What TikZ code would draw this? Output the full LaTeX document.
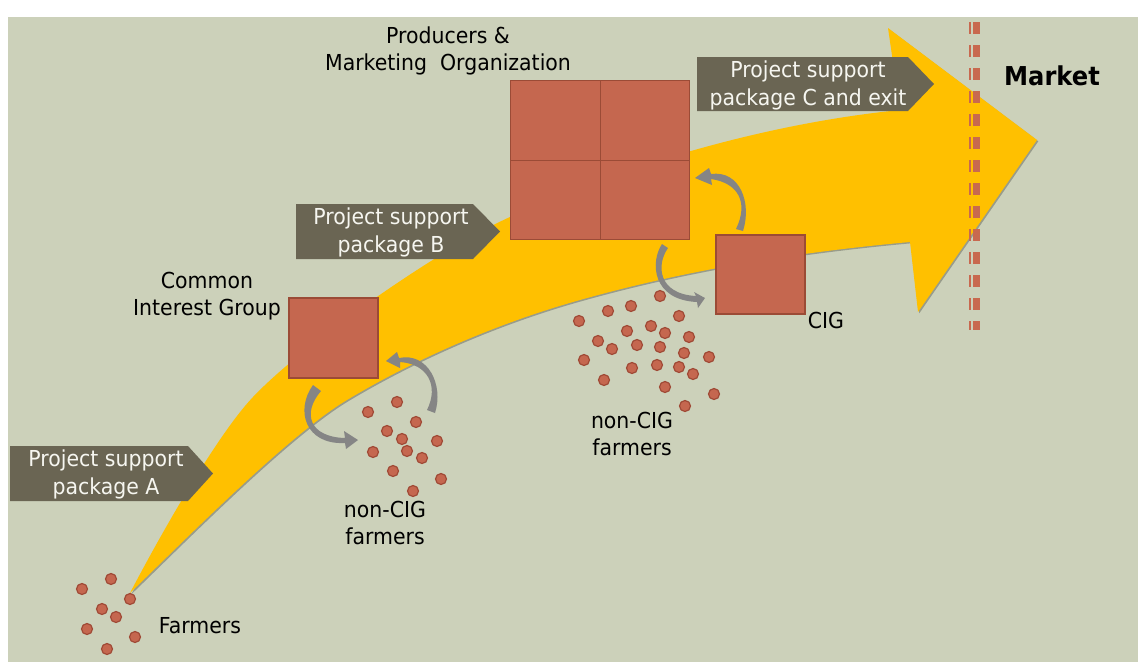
\documentclass[tikz,border=0pt]{standalone}
\usepackage{fontspec}
\setmainfont{DejaVu Sans}[FakeStretch=0.93]
\usetikzlibrary{shadows}
\definecolor{panel}{HTML}{CCD1BA}
\definecolor{flow}{HTML}{FFC000}
\definecolor{brick}{HTML}{C5674F}
\definecolor{brickline}{HTML}{9B4B36}
\definecolor{dotline}{HTML}{A04A36}
\definecolor{tagfill}{HTML}{6A6553}
\definecolor{tagtext}{HTML}{F6F6F0}
\definecolor{turngray}{HTML}{858585}
\definecolor{boundary}{HTML}{C8694F}
\begin{document}
\begin{tikzpicture}[x=1pt,y=-1pt,
  lbl/.style={font=\fontsize{22}{27}\selectfont, text=black, align=center, inner sep=0pt},
  taglbl/.style={font=\fontsize{22}{28}\selectfont, text=tagtext, align=center, inner sep=0pt},
  box/.style={draw=brickline, fill=brick, line width=1.4pt, inner sep=0pt, rectangle},
  dot/.style={circle, draw=dotline, fill=brick, line width=1.2pt, minimum size=11pt, inner sep=0pt},
  tag/.style={fill=tagfill},
  turn/.style={fill=turngray},
  fence/.style={draw=boundary, dash pattern=on 12pt off 11pt}]
\useasboundingbox (0,0) rectangle (1138,662);
\fill[white] (0,0) rectangle (1138,662);
\fill[panel] (8,17) rectangle (1138,662);

% the growth arrow from the farmers to the market
\fill[flow, drop shadow={shadow xshift=1.3pt, shadow yshift=-1.3pt, opacity=0.25, fill=black}]
  (130,593) .. controls (155,545) and (215,437) .. (253,397)
            .. controls (303,344) and (440,248.5) .. (510,217)
            .. controls (640,158.5) and (780,122) .. (900,110)
  -- (888,28) -- (1037,140) -- (918,312) -- (910,242)
            .. controls (800,252) and (690,269) .. (580,300)
            .. controls (500,322.4) and (417,358) .. (347,400)
            .. controls (287,436) and (180,545) .. (130,593)
  -- cycle;

% market boundary
\coordinate (fenceTop) at (970,22);
\coordinate (fenceBot) at (970,330);
\draw[fence, line width=2.7pt] (fenceTop) -- (fenceBot);
\draw[fence, line width=6.7pt] ([xshift=6.7pt]fenceTop) -- ([xshift=6.7pt]fenceBot);

% support package tags
\fill[tag] (10,446) -- (188,446) -- (213,473.5) -- (188,501) -- (10,501) -- cycle;
\fill[tag] (296,204) -- (473,204) -- (500,231.5) -- (473,259) -- (296,259) -- cycle;
\fill[tag] (697,57) -- (908,57) -- (934,84) -- (908,111) -- (697,111) -- cycle;
\node[taglbl] (pkgA) at (106,474) {Project support\\package A};
\node[taglbl] (pkgB) at (391,232) {Project support\\package B};
\node[taglbl] (pkgC) at (808,85) {Project support\\package C and exit};

% groups
\node[box, minimum width=89pt, minimum height=80pt] (cig1) at (333.5,338) {};
\node[box, minimum width=89.5pt, minimum height=79.5pt] (pmo1) at (555.5,120.5) {};
\node[box, minimum width=89.5pt, minimum height=79.5pt] (pmo2) at (645,120.5) {};
\node[box, minimum width=89.5pt, minimum height=79.5pt] (pmo3) at (555.5,200) {};
\node[box, minimum width=89.5pt, minimum height=79.5pt] (pmo4) at (645,200) {};
\node[box, minimum width=89pt, minimum height=79pt] (cig2) at (760.5,274.5) {};

% farmers
\foreach \x/\y in {111/579, 82/589, 130/599, 102/609, 116/617, 87/629, 135/637, 107/649}
  \node[dot] at (\x,\y) {};
\foreach \x/\y in {397/402, 368/412, 416/422, 387/431, 402/439, 437/441, 373/452, 407/451,
                   422/458, 393/471, 441/479, 413/491}
  \node[dot] at (\x,\y) {};
\foreach \x/\y in {660/296, 608/311, 631/306, 679/316, 579/321, 651/326, 627/331, 665/333,
                   689/337, 598/341, 612/349, 637/345, 660/347, 684/353, 709/357, 584/360,
                   632/368, 657/365, 679/367, 693/374, 604/380, 665/387, 714/394, 685/406}
  \node[dot] at (\x,\y) {};

% exchange arrows between groups
\fill[turn] (313,385) .. controls (295,410) and (305,445) .. (345,443) -- (346,449)
  -- (358,440) -- (344,431) -- (345,438) .. controls (309,437) and (302,413) .. (321,391) -- cycle;
\fill[turn] (427,410) .. controls (439,386) and (428,364) .. (400,362) -- (400,368)
  -- (386,361) -- (397,352) -- (399,358) .. controls (428,352) and (444,385) .. (435,413) -- cycle;
\fill[turn] (736,229) .. controls (749,202) and (738,183) .. (711,179) -- (712,185)
  -- (695,178) -- (709,168) -- (711,174) .. controls (740,170) and (752,203) .. (743,231) -- cycle;
\fill[turn] (662,244) .. controls (650,262) and (652,300) .. (697,302) -- (698,308)
  -- (705,298) -- (694,292) -- (696,296) .. controls (658,294) and (656,265) .. (668,248) -- cycle;

% labels
\node[lbl] (lpmo) at (448,50.5) {Producers \&\\Marketing\ \ Organization};
\node[lbl] (lcig1) at (207,296.5) {Common\\Interest Group};
\node[lbl] (lcig2) at (826,320) {CIG};
\node[lbl] (lnon1) at (385,522.5) {non-CIG\\farmers};
\node[lbl] (lnon2) at (632,433.5) {non-CIG\\farmers};
\node[lbl] (lfarm) at (200,626) {Farmers};
\node[font=\bfseries\fontsize{26}{30}\selectfont, inner sep=0pt] (lmarket) at (1052,76) {Market};
\end{tikzpicture}
\end{document}
